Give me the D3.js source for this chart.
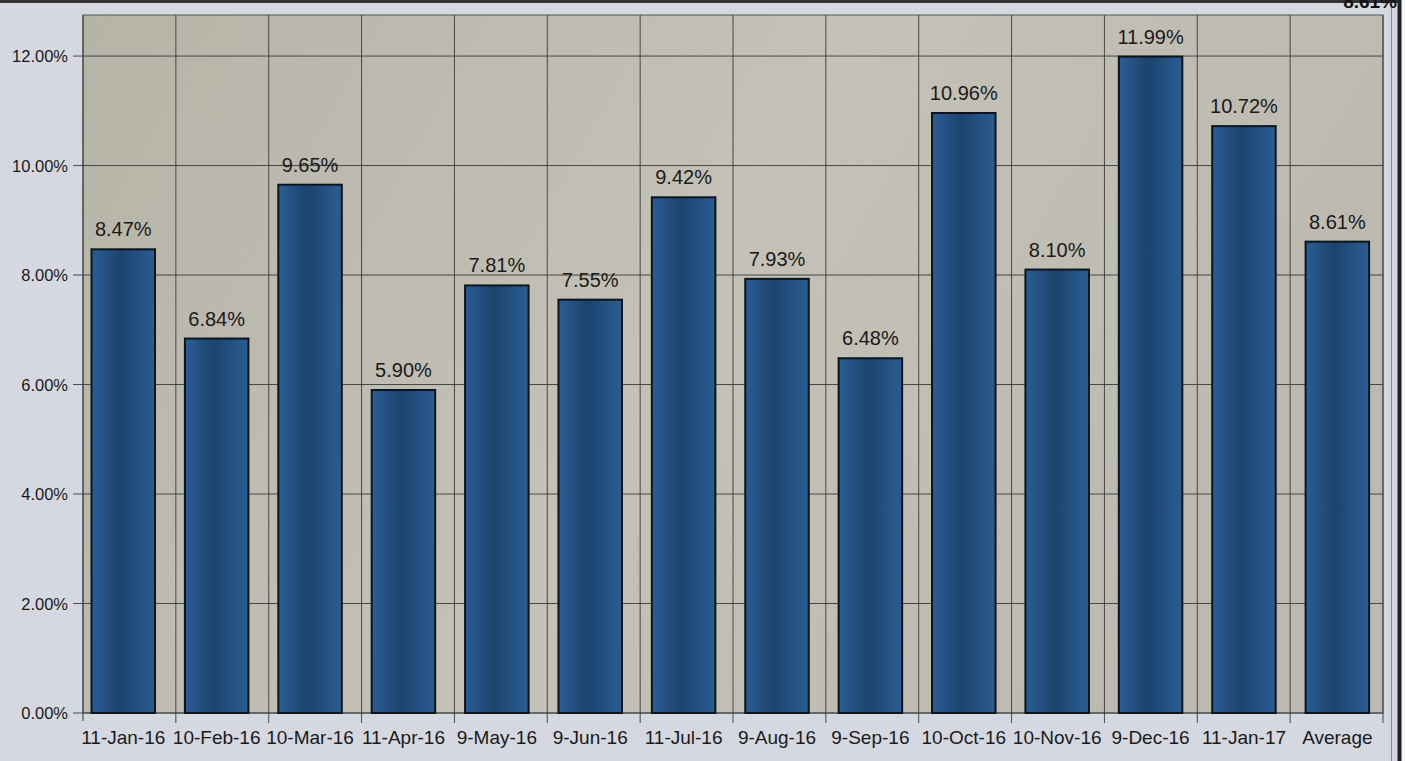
<!DOCTYPE html>
<html><head><meta charset="utf-8">
<script src="https://cdn.jsdelivr.net/npm/d3@7"></script>
<style>html,body{margin:0;padding:0;background:#d6d9df;overflow:hidden}</style>
</head><body>
<script>
const categories = ["11-Jan-16","10-Feb-16","10-Mar-16","11-Apr-16","9-May-16","9-Jun-16","11-Jul-16","9-Aug-16","9-Sep-16","10-Oct-16","10-Nov-16","9-Dec-16","11-Jan-17","Average"];
const values = [8.47,6.84,9.65,5.90,7.81,7.55,9.42,7.93,6.48,10.96,8.10,11.99,10.72,8.61];
const yTicks = [0,2,4,6,8,10,12];

(function(){
const W = 1405, H = 761;
const svg = d3.select("body").append("svg").attr("width", W).attr("height", H)
  .style("font-family", "Liberation Sans, Arial, sans-serif").style("display","block");

const defs = svg.append("defs");
const pg = defs.append("linearGradient").attr("id","plotg").attr("x1","0").attr("x2","1").attr("y1","0").attr("y2","0.3");
pg.append("stop").attr("offset","0").attr("stop-color","#b6b3a7");
pg.append("stop").attr("offset","0.55").attr("stop-color","#c4c1b7");
pg.append("stop").attr("offset","1").attr("stop-color","#bcb9b0");
const bg = defs.append("linearGradient").attr("id","barg").attr("x1","0").attr("x2","1");
bg.append("stop").attr("offset","0").attr("stop-color","#2a5e96");
bg.append("stop").attr("offset","0.45").attr("stop-color","#1d436d");
bg.append("stop").attr("offset","1").attr("stop-color","#2a5d93");

svg.append("rect").attr("x",0).attr("y",0).attr("width",W).attr("height",H).attr("fill","#d5d8e0");
svg.append("rect").attr("x",1398).attr("y",0).attr("width",7).attr("height",H).attr("fill","#f4f5f7");
svg.append("line").attr("x1",0).attr("x2",1400).attr("y1",1.5).attr("y2",1.5).attr("stroke","#333").attr("stroke-width",3);
svg.append("line").attr("x1",1399.5).attr("x2",1399.5).attr("y1",0).attr("y2",H).attr("stroke","#222").attr("stroke-width",4);
svg.append("line").attr("x1",1391.5).attr("x2",1391.5).attr("y1",8).attr("y2",H).attr("stroke","#8a8c90").attr("stroke-width",1);
svg.append("text").attr("x",1397).attr("y",8).attr("text-anchor","end")
  .attr("font-size",19).attr("font-weight","bold").attr("fill","#111").text("8.61%");

const pL = 83, pR = 1383, pT = 15, pB = 713;
const x = d3.scaleBand().domain(categories).range([pL, pR]).paddingInner(0.32).paddingOuter(0.12).align(0.38);
const xb = d3.scaleBand().domain(categories).range([pL, pR]).padding(0);
const y = d3.scaleLinear().domain([0, 12.75]).range([pB, pT]);

svg.append("rect").attr("x",pL).attr("y",pT).attr("width",pR-pL).attr("height",pB-pT)
  .attr("fill","url(#plotg)").attr("stroke","#555").attr("stroke-width",1);

svg.append("g").selectAll("line").data(yTicks).join("line")
  .attr("x1",pL-10).attr("x2",pR).attr("y1",d=>y(d)).attr("y2",d=>y(d))
  .attr("stroke","#3a3a3a").attr("stroke-width",0.9);
const bounds = categories.slice(1).map(c=>xb(c)).concat([pR]);
svg.append("g").selectAll("line").data(bounds).join("line")
  .attr("x1",d=>d).attr("x2",d=>d).attr("y1",pT).attr("y2",pB+10)
  .attr("stroke","#3a3a3a").attr("stroke-width",0.9);
svg.append("line").attr("x1",pL).attr("x2",pL).attr("y1",pT).attr("y2",pB+8).attr("stroke","#3a3a3a");

svg.append("g").selectAll("text").data(yTicks).join("text")
  .attr("x",68).attr("y",d=>y(d)+6).attr("text-anchor","end")
  .attr("font-size",16.5).attr("fill","#1a1a1a").text(d=>d.toFixed(2)+"%");

svg.append("g").selectAll("rect").data(values).join("rect")
  .attr("x",(d,i)=>x(categories[i])).attr("width",x.bandwidth())
  .attr("y",d=>y(d)).attr("height",d=>pB-y(d))
  .attr("fill","url(#barg)").attr("stroke","#101418").attr("stroke-width",2);

svg.append("g").selectAll("text").data(values).join("text")
  .attr("x",(d,i)=>x(categories[i])+x.bandwidth()/2).attr("y",d=>y(d)-13)
  .attr("text-anchor","middle").attr("font-size",20).attr("fill","#1a1a1a")
  .text(d=>d.toFixed(2)+"%");

svg.append("g").selectAll("text").data(categories).join("text")
  .attr("x",d=>x(d)+x.bandwidth()/2).attr("y",744)
  .attr("text-anchor","middle").attr("font-size",19).attr("fill","#1a1a1a").text(d=>d);
})();
</script>
</body></html>
